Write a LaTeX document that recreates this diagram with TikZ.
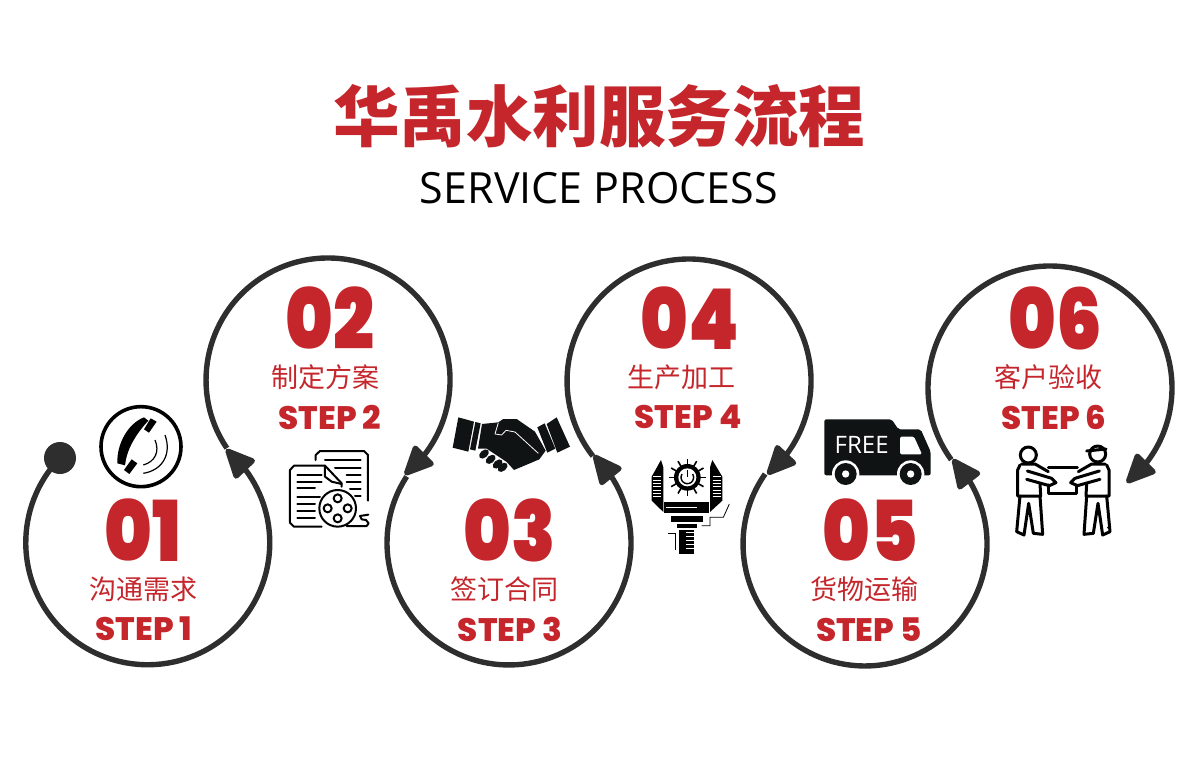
\documentclass[tikz,border=0pt]{standalone}
\usepackage{fontspec}
\usetikzlibrary{positioning,arrows.meta,bending}
\newfontfamily\cjk{Noto Sans CJK SC}
\newfontfamily\cjkheavy{Noto Sans CJK SC Black}
\newfontfamily\numfont[FakeStretch=.86]{Poppins Black}
\newfontfamily\stepfont{Poppins ExtraBold}
\setmainfont{Open Sans}
\definecolor{hyred}{HTML}{C4262C}
\definecolor{hydark}{HTML}{2E2E2E}
\definecolor{hyblack}{HTML}{101314}

\begin{document}
\begin{tikzpicture}[x=1pt,y=-1pt,
                    ring line/.style={draw=hydark,line width=5.4pt,-{Triangle[length=33pt,width=29pt,round]}},
                    start dot/.style={circle,fill=hydark,minimum size=32pt,inner sep=0pt},
                    num label/.style={font=\numfont\fontsize{84}{84}\selectfont,text=hyred,inner sep=0pt},
                    cn label/.style={font=\cjk\fontsize{27}{27}\selectfont,text=hyred,inner sep=0pt},
                    step label/.style={font=\stepfont\fontsize{32.5}{33}\selectfont,text=hyred,inner sep=0pt},
                    ink/.style={line width=2pt,draw=black,line cap=round,line join=round},
                    porter/.style={line width=3pt,draw=black,line cap=round,line join=round}]
  \useasboundingbox (0,0) rectangle (1200,760);

  \node[font=\cjkheavy\fontsize{66.5}{66.5}\selectfont,text=hyred,inner sep=0pt] (title) at (599,116) {华禹水利服务流程};
  \node[font=\fontsize{43}{43}\selectfont,inner sep=0pt] (subtitle) [below=24pt of title] {SERVICE PROCESS};

  \node[start dot] (start) at (60,458) {};
  \coordinate (join1) at (226.9,448.2);
  \coordinate (join2) at (406.7,476.5);
  \coordinate (join3) at (592.9,456.1);
  \coordinate (join4) at (765.1,474);
  \coordinate (join5) at (951.3,459.7);

  \draw[ring line] (start) arc[start angle=224,end angle=-50,radius=122];
  \draw[ring line] (join1) arc[start angle=146,end angle=411,radius=122];
  \draw[ring line] (join2) arc[start angle=213,end angle=-46,radius=122];
  \draw[ring line] (join3) arc[start angle=142,end angle=410,radius=122];
  \draw[ring line] (join4) arc[start angle=215,end angle=-44,radius=122];
  \draw[ring line] (join5) arc[start angle=144,end angle=411,radius=122];

  \node[num label] (num1) at (143,530) {01};
  \node[cn label] (cn1) [below=15pt of num1] {沟通需求};
  \node[step label] (step1) [below=15pt of cn1,xshift=1pt] {STEP 1};
  \node[num label] (num2) at (330,318) {02};
  \node[cn label] (cn2) [below=15pt of num2,xshift=-5pt] {制定方案};
  \node[step label] (step2) [below=15pt of cn2,xshift=5pt] {STEP 2};
  \node[num label] (num3) at (510,530) {03};
  \node[cn label] (cn3) [below=15pt of num3,xshift=-6pt] {签订合同};
  \node[step label] (step3) [below=15pt of cn3,xshift=6pt] {STEP 3};
  \node[num label] (num4) at (690,318) {04};
  \node[cn label] (cn4) [below=15pt of num4,xshift=-9pt] {生产加工};
  \node[step label] (step4) [below=15pt of cn4,xshift=7pt] {STEP 4};
  \node[num label] (num5) at (870,530) {05};
  \node[cn label] (cn5) [below=15pt of num5,xshift=-6pt] {货物运输};
  \node[step label] (step5) [below=15pt of cn5,xshift=5pt] {STEP 5};
  \node[num label] (num6) at (1055,318) {06};
  \node[cn label] (cn6) [below=15pt of num6,xshift=-7pt] {客户验收};
  \node[step label] (step6) [below=15pt of cn6,xshift=6pt] {STEP 6};

  % phone
  \begin{scope}[shift={(0,380)},scale=1/3]
    \draw[line width=3.6pt] (423,200) circle[radius=120];
    \fill (432,112) .. controls (385,130) and (350,190) .. (352,250) -- (375,256)
      .. controls (380,210) and (405,165) .. (445,122) -- cycle;
    \fill (452,115) -- (470,125) -- (447,158) -- (432,148) -- cycle;
    \fill (395,238) -- (412,250) -- (388,282) -- (372,270) -- cycle;
    \draw[line width=1.2pt] (465,180) .. controls (480,215) and (465,245) .. (430,255);
    \draw[line width=1.2pt] (495,165) .. controls (515,220) and (490,270) .. (430,280);
  \end{scope}

  % documents and film reel
  \begin{scope}[shift={(0,380)},scale=1/3]
    \draw[ink] (947,240) -- (947,225) -- (960,213) -- (1092,213) -- (1104,225) -- (1104,362);
    \draw[ink] (1025,320) -- (1025,310) -- (975,257) -- (882,257) -- (870,270) -- (870,428) -- (882,440) -- (965,440);
    \draw[ink] (975,257) -- (975,290) -- (995,305) -- (1025,312);
    \foreach \liney/\linex in {285/965,305/965,325/945,350/960,372/945,392/945,413/945}
      \draw[ink] (892,\liney) -- (\linex,\liney);
    \foreach \liney/\linex in {240/975,263/1005,285/1040,305/1040,327/1050,348/1065}
      \draw[ink] (\linex,\liney) -- (1082,\liney);
    \draw[ink] (1013,385) circle[radius=55];
    \foreach \reelx/\reely in {1013/355,1043/385,1013/415,983/385}
      \draw[ink] (\reelx,\reely) circle[radius=12];
    \draw[ink] (1040,438) -- (1100,438) -- (1106,430) -- (1098,420) -- (1085,418) -- (1080,408) -- (1105,404);
  \end{scope}

  % handshake
  \begin{scope}[shift={(200,250)},scale=1/3]
    \fill[hyblack] (775,502) -- (822,515) -- (805,605) -- (758,593) -- cycle;
    \fill[hyblack] (826,516) -- (842,520) -- (826,602) -- (810,598) -- cycle;
    \fill[hyblack] (1070,502) -- (1110,590) -- (1072,608) -- (1040,522) -- cycle;
    \fill[hyblack] (1012,532) -- (1034,520) -- (1066,596) -- (1042,608) -- cycle;
    \fill[hyblack] (846,522) -- (895,517) -- (910,507) -- (950,507) -- (1005,545) -- (1037,602)
      -- (1018,628) -- (985,642) -- (942,660) -- (920,636) -- (860,596) -- (834,596) -- cycle;
    \foreach \fingerx/\fingery in {852/612,872/628,893/642,908/652}
      \fill[hyblack,rotate around={40:(\fingerx,\fingery)}] (\fingerx,\fingery) ellipse[x radius=17,y radius=11];
    \draw[white,line width=.8pt] (885,552) -- (905,555) -- (918,541) -- (945,546) -- (1015,610);
    \draw[white,line width=.8pt] (885,552) -- (895,518);
  \end{scope}

  % machine tool
  \begin{scope}[shift={(560,380)},scale=1/3]
    \foreach \rayangle in {0,30,...,330}
      \draw[line width=1.6pt] (382,292) -- ++(\rayangle:56);
    \fill (382,292) circle[radius=40];
    \fill[white] (382,292) circle[radius=27];
    \draw[line width=1.4pt] (366,282) arc[start angle=212,end angle=-32,radius=19];
    \draw[line width=1.4pt] (382,270) -- (382,292);
    \fill (303,240) -- (275,290) -- (275,362) -- (310,396) -- (310,262) -- cycle;
    \fill (457,240) -- (487,290) -- (487,362) -- (450,396) -- (450,262) -- cycle;
    \foreach \barliney in {290,300,...,350}{
      \draw[white,line width=.8pt] (280,\barliney) -- (302,\barliney);
      \draw[white,line width=.8pt] (458,\barliney) -- (482,\barliney);
    }
    \fill (313,367) rectangle (447,398);
    \draw[white,line width=.8pt] (318,381) -- (412,381);
    \fill (333,407) rectangle (430,425);
    \fill (350,433) rectangle (412,445);
    \fill (358,450) rectangle (402,522);
    \foreach \tickliney in {458,470,482,494,506}
      \draw[white,line width=.7pt] (378,\tickliney) -- (402,\tickliney);
    \draw[line width=.8pt] (323,460) -- (345,460) -- (345,510);
    \draw[line width=.8pt] (425,437) -- (450,437) -- (450,412) -- (490,412) -- (508,372);
  \end{scope}

  % truck
  \begin{scope}[shift={(560,380)},scale=1/3]
    \fill[hyblack,rounded corners=2pt] (793,118) -- (995,118) -- (1015,148) -- (1082,148) -- (1112,215) -- (1112,286) -- (793,286) -- cycle;
    \fill[white,rounded corners=1.5pt] (1020,170) -- (1062,170) -- (1086,223) -- (1020,223) -- cycle;
    \foreach \wheelx in {857,1052}{
      \fill[white] (\wheelx,282) circle[radius=41];
      \fill[hyblack] (\wheelx,282) circle[radius=33];
      \fill[white] (\wheelx,282) circle[radius=11];
    }
    \node[font=\fontsize{24}{24}\selectfont,text=white,inner sep=0pt] (free) at (905,196) {FREE};
  \end{scope}

  % two porters with a box
  \begin{scope}[shift={(920,400)},scale=1/3]
    \draw[porter] (385,203) -- (472,203);
    \draw[porter] (385,255) -- (385,281) -- (470,281) -- (470,255);
    \foreach \mirrorx/\flipx in {0/1,860/-1}{
      \begin{scope}[shift={(\mirrorx,0)},xscale=\flipx]
        \draw[porter] (300,195) -- (293,210) -- (293,288) -- (362,288) -- (360,250);
        \draw[porter] (300,288) -- (290,395) -- (312,405) -- (326,310) -- (340,400) -- (368,403) -- (360,288);
        \draw[porter] (305,192) -- (345,192) -- (385,215);
        \draw[porter] (322,213) -- (395,235) -- (408,248) -- (388,257) -- (320,238);
      \end{scope}
    }
    \draw[porter] (325,165) circle[radius=24];
    \draw[porter] (533,162) circle[radius=24];
    \draw[porter] (500,153) -- (558,147);
    \fill (565,383) circle[radius=4];
  \end{scope}
\end{tikzpicture}
\end{document}
